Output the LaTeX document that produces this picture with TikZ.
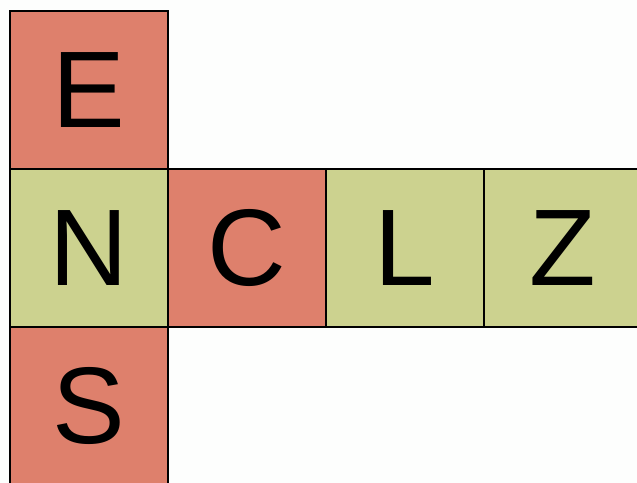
\documentclass[tikz,border=0pt]{standalone}
\usepackage{fontspec}
\setmainfont{Liberation Sans}
\usetikzlibrary{positioning}
\definecolor{tilered}{RGB}{222,128,108}
\definecolor{tilegreen}{RGB}{204,210,143}
\definecolor{paper}{RGB}{253,254,253}
\tikzset{
    tile/.style={draw, line width=0.8pt, rectangle, minimum size=1.58cm, inner sep=0pt, outer sep=0pt, font=\fontsize{31}{33}\selectfont},
    redtile/.style={tile, fill=tilered},
    greentile/.style={tile, fill=tilegreen}
}

\begin{document}
\begin{tikzpicture}
\fill[paper] (0,0) rectangle (6.37,4.83);
\useasboundingbox (0,0) rectangle (6.37,4.83);
\clip (0,0) rectangle (6.37,4.83);
\node[greentile] (n) at (0.89,2.35) {N};
\node[redtile, above=0pt of n] (e) {E};
\node[redtile, below=0pt of n] (s) {S};
\node[redtile, right=0pt of n] (c) {C};
\node[greentile, right=0pt of c] (l) {L};
\node[greentile, right=0pt of l] (z) {Z};
\end{tikzpicture}
\end{document}
